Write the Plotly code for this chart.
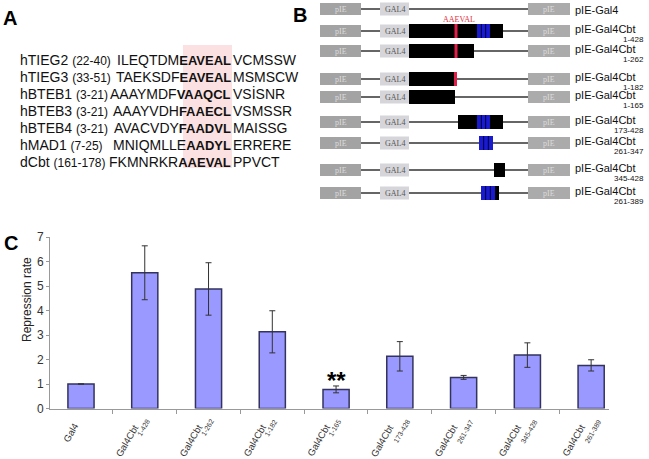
import plotly.graph_objects as go

W, H = 649, 459

# ---------------- Panel A data ----------------
seq_names = ["hTIEG2", "hTIEG3", "hBTEB1", "hBTEB3", "hBTEB4", "hMAD1", "dCbt"]
seq_ranges = ["(22-40)", "(33-51)", "(3-21)", "(3-21)", "(3-21)", "(7-25)", "(161-178)"]
seq_prefix = ["ILEQTDM", "TAEKSDF", "AAAYMDF", "AAAYVDH", "AVACVDY", "MNIQMLLE", "FKMNRKR"]
seq_motif = ["EAVEAL", "EAVEAL", "VAAQCL", "FAAECL", "FAADVL", "AADYL", "AAEVAL"]
seq_suffix = ["VCMSSW", "MSMSCW", "VSİSNR", "VSMSSR", "MAISSG", "ERRERE", "PPVCT"]

# ---------------- Panel B data ----------------
construct_main = ["pIE-Gal4"] + ["pIE-Gal4Cbt"] * 8
construct_sub = ["", "1-428", "1-262", "1-182", "1-165", "173-428", "261-347", "345-428", "261-389"]
# schematic segment extents (diagram units)
black_x0 = [None, 409, 409, 409, 409, 458, None, 494, 481]
black_x1 = [None, 503, 474, 457, 455, 503, None, 505, 499]
red_x = [None, 456, 456, 455.5, None, None, None, None, None]
blue_x0 = [None, 477, None, None, None, 477, 479, None, 481]
blue_x1 = [None, 490, None, None, None, 490, 493, None, 495]

# ---------------- Panel C data ----------------
cat_main = ["Gal4"] + ["Gal4Cbt"] * 8
cat_sub = ["", "1-428", "1-262", "1-182", "1-165", "173-428", "261-347", "345-428", "261-389"]
repression = [1.0, 5.54, 4.88, 3.13, 0.78, 2.13, 1.27, 2.18, 1.76]
errors = [0.0, 1.1, 1.07, 0.86, 0.14, 0.6, 0.08, 0.5, 0.23]
y_ticks = [0, 1, 2, 3, 4, 5, 6, 7]

fig = go.Figure()


def py(p):  # pixel y -> paper
    return (H - p) / H


def px(p):
    return p / W


xs = list(range(len(cat_main)))
fig.add_trace(go.Bar(
    x=xs, y=repression, width=0.41,
    marker=dict(color="#9999ff", line=dict(color="#33335e", width=1.5)),
    error_y=dict(type="data", array=errors, color="#333333", thickness=1, width=3),
    xaxis="x", yaxis="y", showlegend=False, hoverinfo="skip",
))

fig.update_layout(
    xaxis=dict(domain=[px(50), px(609)], range=[-0.486, 8.28], anchor="y", automargin=False,
               tickmode="array", tickvals=xs, showticklabels=False, ticks="",
               showline=True, linecolor="#999999", linewidth=1, showgrid=False, zeroline=False,
               minor=dict(tickmode="array", tickvals=[i + 0.5 for i in range(8)], ticks="outside",
                          ticklen=4, tickcolor="#999999")),
    yaxis=dict(domain=[py(408.5), py(237)], range=[0, 7], anchor="x", automargin=False,
               tickmode="array", tickvals=y_ticks, ticks="outside", ticklen=3, tickcolor="#999999",
               tickfont=dict(family="Liberation Sans, Arial", size=12, color="#333"),
               showline=True, linecolor="#999999", linewidth=1, showgrid=False, zeroline=False),
)

# ---------- overlay pixel axis for panels A/B ----------
fig.add_trace(go.Scatter(x=[0], y=[0], mode="markers", marker=dict(opacity=0),
                         xaxis="x2", yaxis="y2", showlegend=False, hoverinfo="skip"))
fig.update_layout(
    xaxis2=dict(domain=[0, 1], range=[0, W], anchor="y2", visible=False, fixedrange=True, automargin=False),
    yaxis2=dict(domain=[0, 1], range=[H, 0], anchor="x2", visible=False, fixedrange=True, automargin=False),
)

shapes = []
ann = []

# Panel labels
for lab, x, y in [("A", 10, 18), ("B", 300, 15), ("C", 11, 243)]:
    ann.append(dict(x=x, y=y, xref="x2", yref="y2", text="<b>%s</b>" % lab, showarrow=False,
                    font=dict(family="Liberation Sans, Arial", size=20, color="#000"),
                    xanchor="center", yanchor="middle"))

# Panel A
row_y0, row_dy = 59.5, 17
motif_end = 232
shapes.append(dict(type="rect", xref="x2", yref="y2", x0=183, x1=232, y0=45, y1=168,
                   fillcolor="#fbe1e1", line=dict(width=0), layer="below"))
fa = dict(family="Liberation Sans, Arial", size=14, color="#111")
for i in range(len(seq_names)):
    y = row_y0 + i * row_dy
    ann.append(dict(x=19, y=y, xref="x2", yref="y2", borderpad=0,
                    text="%s <span style='font-size:12px'>%s</span>" % (seq_names[i], seq_ranges[i]),
                    showarrow=False, font=fa, xanchor="left", yanchor="middle"))
    ann.append(dict(x=motif_end, y=y, xref="x2", yref="y2", borderpad=0,
                    text="%s<b><span style='font-size:13px'>%s</span></b>" % (seq_prefix[i], seq_motif[i]),
                    showarrow=False, font=fa, xanchor="right", yanchor="middle"))
    ann.append(dict(x=motif_end, y=y, xref="x2", yref="y2", text=seq_suffix[i], borderpad=0,
                    showarrow=False, font=fa, xanchor="left", yanchor="middle"))

# Panel B
rows_y = [9, 31, 51, 79, 97, 122, 143, 170, 193]
serif = "Liberation Serif, Times New Roman"
for i, y in enumerate(rows_y):
    shapes.append(dict(type="line", xref="x2", yref="y2", x0=361, x1=528, y0=y, y1=y,
                       line=dict(color="#333333", width=1.5)))
    shapes.append(dict(type="rect", xref="x2", yref="y2", x0=320, x1=361, y0=y - 6, y1=y + 6,
                       fillcolor="#a3a3a3", line=dict(width=0)))
    ann.append(dict(x=340.5, y=y, xref="x2", yref="y2", text="pIE", showarrow=False,
                    font=dict(family=serif, size=8, color="#dcdcdc"), xanchor="center", yanchor="middle"))
    shapes.append(dict(type="rect", xref="x2", yref="y2", x0=380, x1=409, y0=y - 6.5, y1=y + 6.5,
                       fillcolor="#d5d5da", line=dict(width=0)))
    ann.append(dict(x=394.5, y=y, xref="x2", yref="y2", text="GAL4", showarrow=False,
                    font=dict(family=serif, size=8, color="#555555"), xanchor="center", yanchor="middle"))
    shapes.append(dict(type="rect", xref="x2", yref="y2", x0=528, x1=570, y0=y - 6, y1=y + 6,
                       fillcolor="#ababab", line=dict(width=0)))
    ann.append(dict(x=549, y=y, xref="x2", yref="y2", text="pIE", showarrow=False,
                    font=dict(family=serif, size=8, color="#dcdcdc"), xanchor="center", yanchor="middle"))
    if black_x0[i] is not None:
        shapes.append(dict(type="rect", xref="x2", yref="y2", x0=black_x0[i], x1=black_x1[i],
                           y0=y - 7, y1=y + 7, fillcolor="#000000", line=dict(width=0)))
    if blue_x0[i] is not None:
        b0, b1 = blue_x0[i], blue_x1[i]
        shapes.append(dict(type="rect", xref="x2", yref="y2", x0=b0, x1=b1, y0=y - 7, y1=y + 7,
                           fillcolor="#1a1ad0", line=dict(width=0)))
        for k in (1, 2):
            xx = b0 + (b1 - b0) * k / 3
            shapes.append(dict(type="line", xref="x2", yref="y2", x0=xx, x1=xx, y0=y - 7, y1=y + 7,
                               line=dict(color="#000033", width=1)))
    if red_x[i] is not None:
        shapes.append(dict(type="rect", xref="x2", yref="y2", x0=red_x[i] - 1.5, x1=red_x[i] + 1.5,
                           y0=y - 7, y1=y + 7, fillcolor="#e0204a", line=dict(width=0)))
    if construct_sub[i]:
        ann.append(dict(x=574, y=y - 2, xref="x2", yref="y2", text=construct_main[i], showarrow=False,
                        font=dict(family="Liberation Sans, Arial", size=11, color="#111"), borderpad=0,
                        xanchor="left", yanchor="middle"))
        ann.append(dict(x=645, y=y + 8, xref="x2", yref="y2", text=construct_sub[i], showarrow=False,
                        font=dict(family="Liberation Sans, Arial", size=8, color="#111"), borderpad=0,
                        xanchor="right", yanchor="middle"))
    else:
        ann.append(dict(x=574, y=y + 1, xref="x2", yref="y2", text=construct_main[i], showarrow=False,
                        font=dict(family="Liberation Sans, Arial", size=11, color="#111"), borderpad=0,
                        xanchor="left", yanchor="middle"))

ann.append(dict(x=459, y=19, xref="x2", yref="y2", text="AAEVAL", showarrow=False,
                font=dict(family=serif, size=8, color="#e03040"), xanchor="center", yanchor="middle"))

# Panel C extras
ann.append(dict(x=27, y=300, xref="x2", yref="y2", text="Repression rate", textangle=-90,
                showarrow=False, font=dict(family="Liberation Sans, Arial", size=12, color="#222"),
                xanchor="center", yanchor="middle"))
ann.append(dict(x=4, y=repression[4] + errors[4] + 0.22, xref="x", yref="y", text="<b>**</b>",
                showarrow=False, font=dict(family="Liberation Sans, Arial", size=24, color="#000"),
                xanchor="center", yanchor="middle"))

# rotated category labels
for i in xs:
    if cat_sub[i]:
        ann.append(dict(x=i, y=0, xref="x", yref="y", text=cat_main[i], textangle=-60, showarrow=False,
                        font=dict(family="Liberation Sans, Arial", size=9.5, color="#333"), borderpad=0,
                        xanchor="right", yanchor="top", xshift=-3, yshift=-12.5))
        ann.append(dict(x=i, y=0, xref="x", yref="y", text=cat_sub[i], textangle=-60, showarrow=False,
                        font=dict(family="Liberation Sans, Arial", size=7, color="#333"), borderpad=0,
                        xanchor="right", yanchor="top",
                        xshift=8 + 2.3 * (len(cat_sub[i]) - 5), yshift=-8.5))
    else:
        ann.append(dict(x=i, y=0, xref="x", yref="y", text=cat_main[i], textangle=-60, showarrow=False,
                        font=dict(family="Liberation Sans, Arial", size=9.5, color="#333"), borderpad=0,
                        xanchor="right", yanchor="top", xshift=1, yshift=-11.5))

fig.update_layout(
    width=W, height=H, margin=dict(l=0, r=0, t=0, b=0),
    paper_bgcolor="white", plot_bgcolor="rgba(0,0,0,0)",
    shapes=shapes, annotations=ann, showlegend=False,
)

fig.write_html("out.html", config={"displayModeBar": False},
               post_script="document.body.style.margin='0px';document.body.style.overflow='hidden';")
